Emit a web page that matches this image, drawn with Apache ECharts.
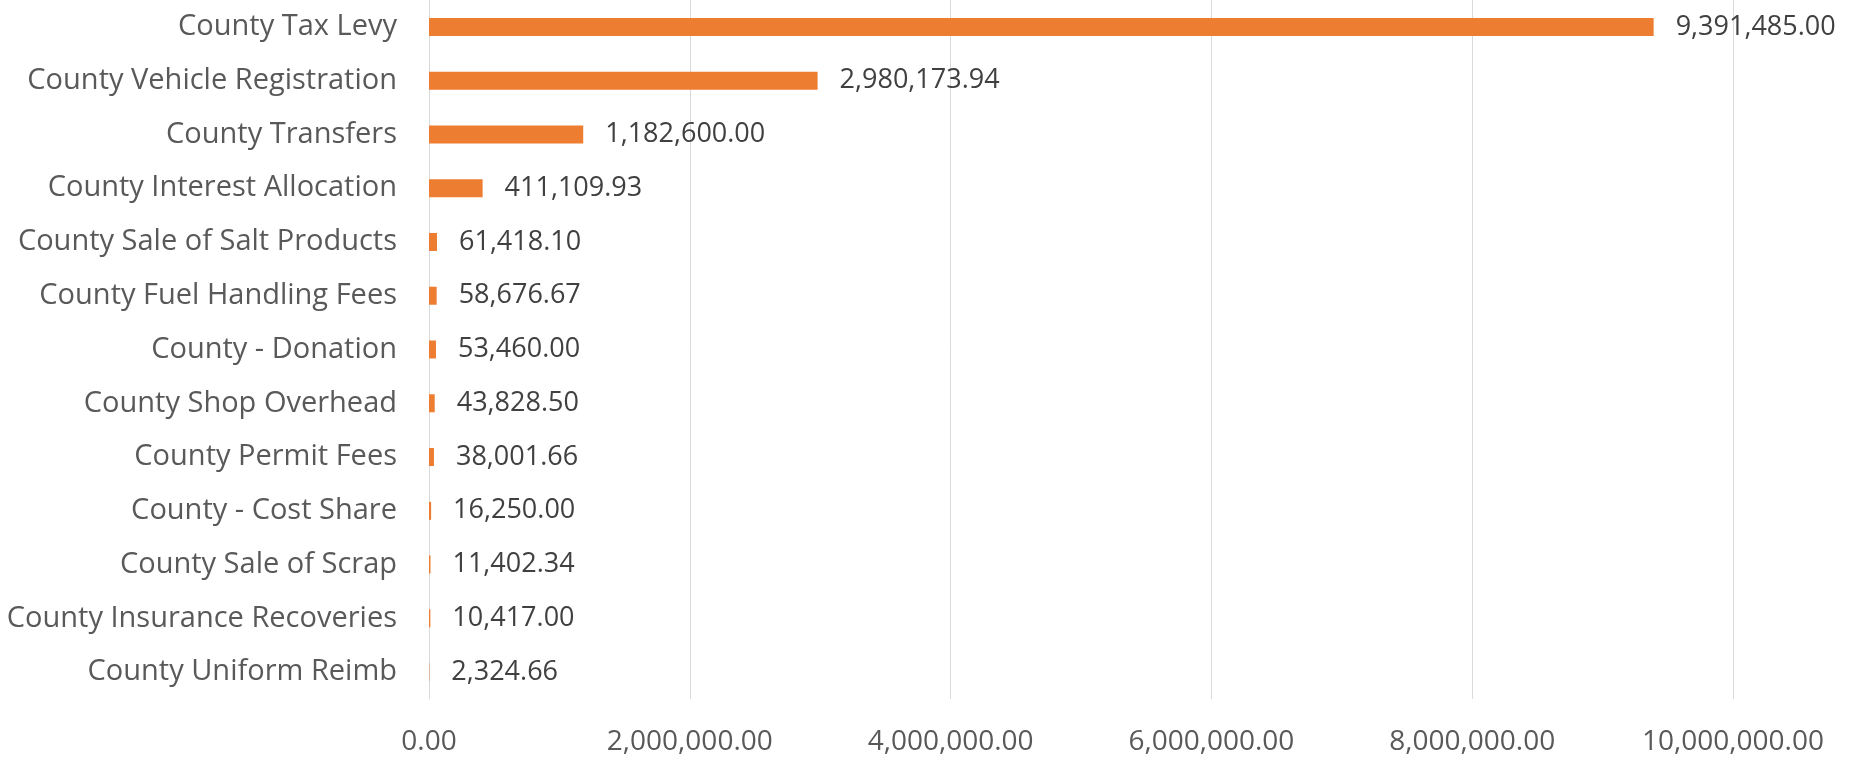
<!DOCTYPE html>
<html><head><meta charset="utf-8">
<script src="https://cdn.jsdelivr.net/npm/echarts@6/dist/echarts.min.js"></script>
<style>html,body{margin:0;padding:0;background:#fff}#c{width:1870px;height:757px}</style>
</head><body><div id="c"></div>
<script>
const categories = ["County Tax Levy","County Vehicle Registration","County Transfers","County Interest Allocation","County Sale of Salt Products","County Fuel Handling Fees","County - Donation","County Shop Overhead","County Permit Fees","County - Cost Share","County Sale of Scrap","County Insurance Recoveries","County Uniform Reimb"];
const values = [9391485.00,2980173.94,1182600.00,411109.93,61418.10,58676.67,53460.00,43828.50,38001.66,16250.00,11402.34,10417.00,2324.66];
const xTicks = [0,2000000,4000000,6000000,8000000,10000000];
const fmt = v => v.toLocaleString('en-US',{minimumFractionDigits:2,maximumFractionDigits:2});
const FONT = 'Open Sans';
const chart = echarts.init(document.getElementById('c'));
chart.setOption({
  animation:false,
  textStyle:{fontFamily:FONT},
  grid:{left:429,right:137,top:-6,bottom:58,containLabel:false},
  xAxis:{type:'value',min:xTicks[0],max:xTicks[xTicks.length-1],interval:2000000,
    axisLine:{show:false},axisTick:{show:false},
    splitLine:{lineStyle:{color:'#d9d9d9',width:1}},
    axisLabel:{formatter:fmt,color:'#595959',fontSize:28,margin:29,fontFamily:FONT}},
  yAxis:{type:'category',data:categories,inverse:true,
    axisLine:{show:true,lineStyle:{color:'#d9d9d9'}},axisTick:{show:false},
    axisLabel:{color:'#595959',fontSize:29,margin:32,fontFamily:FONT}},
  series:[{type:'bar',data:values,barWidth:18,itemStyle:{color:'#ED7D31'},
    label:{show:true,position:'right',distance:22,formatter:p=>fmt(p.value),color:'#404040',fontSize:27,fontFamily:FONT}}]
});
</script></body></html>
